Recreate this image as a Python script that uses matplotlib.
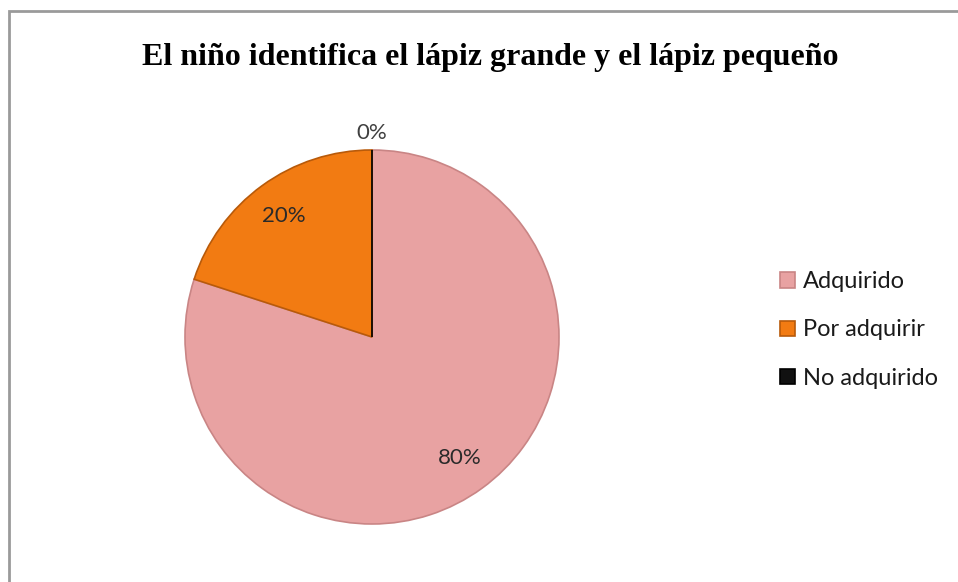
import matplotlib.pyplot as plt
from matplotlib.patches import Rectangle
import numpy as np

title = "El niño identifica el lápiz grande y el lápiz pequeño"
categories = ["Adquirido", "Por adquirir", "No adquirido"]
values = [80, 20, 0]
colors = ["#E8A2A2", "#F27B12", "#111111"]
edge_colors = ["#C98585", "#B85A0A", "#000000"]

W, H = 958, 582
fig = plt.figure(figsize=(W / 100, H / 100), dpi=100)
fig.patch.set_facecolor("white")

# marco gris del gráfico (se sale por la derecha y por abajo)
fig.patches.append(Rectangle((9 / W, -0.1), 1.2, (H - 11) / H + 0.1,
                             transform=fig.transFigure, fill=False,
                             edgecolor="#9A9A9A", linewidth=2))

fig.text(490 / W, 1 - 58 / H, title, ha="center", va="center",
         family="Liberation Serif", fontweight="bold", fontsize=23)

cx, cy, r = 372, 337, 187
box = 440
ax = fig.add_axes([(cx - box / 2) / W, (H - cy - box / 2) / H, box / W, box / H])

wedges, _ = ax.pie(values, colors=colors, startangle=90, counterclock=False,
                   radius=1, wedgeprops=dict(linewidth=1.2))
for w, ec in zip(wedges, edge_colors):
    w.set_edgecolor(ec)

lim = (box / 2) / r
ax.set_xlim(-lim, lim)
ax.set_ylim(-lim, lim)
ax.set_aspect("equal")
ax.axis("off")

total = sum(values)
for w, v in zip(wedges, values):
    ang = np.deg2rad((w.theta1 + w.theta2) / 2)
    d = 0.8 if v > 0 else 1.09
    ax.text(d * np.cos(ang), d * np.sin(ang), f"{v / total * 100:.0f}%",
            ha="center", va="center", family="Lato", fontsize=16,
            color="#2A2A2A" if v > 0 else "#404040")

leg = fig.legend(wedges, categories, loc="center left",
                 bbox_to_anchor=(780 / W, 1 - 330 / H), frameon=False,
                 borderaxespad=0, borderpad=0,
                 prop=dict(family="Lato", size=17), handlelength=0.62,
                 handleheight=0.62, handletextpad=0.35, labelspacing=1.15)
for t in leg.get_texts():
    t.set_color("#1A1A1A")

fig.savefig("out.png", dpi=100)
